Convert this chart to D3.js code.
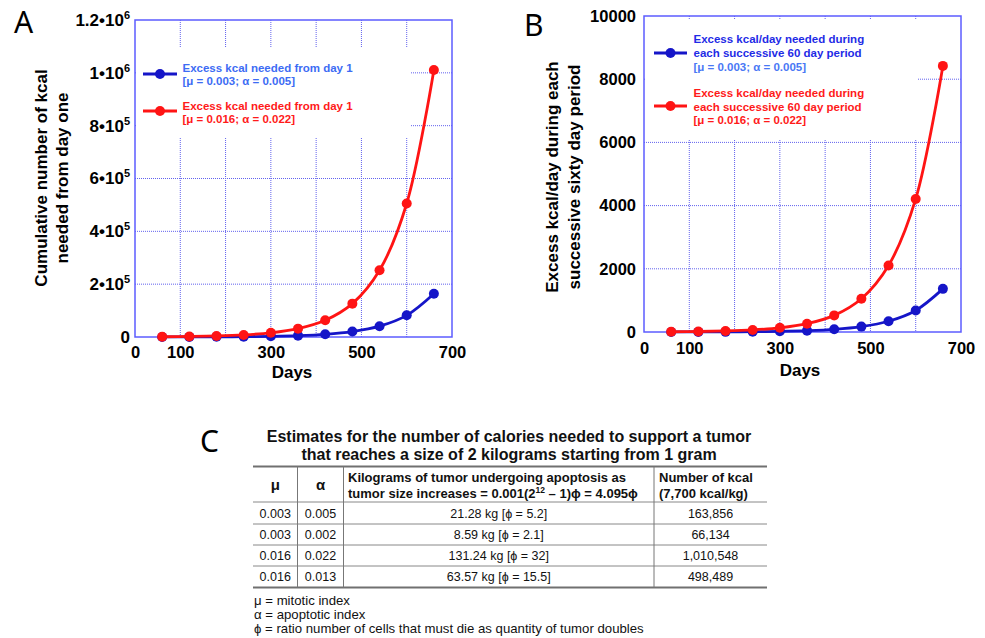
<!DOCTYPE html>
<html><head><meta charset="utf-8">
<script src="https://cdn.jsdelivr.net/npm/d3@7"></script>
<style>
body{margin:0;background:#fff;}
svg{display:block;font-family:"Liberation Sans",Arial,Helvetica,sans-serif;}
</style></head><body>
<svg id="c" width="985" height="638"></svg>
<script>
// ---------- data ----------
const days = [60,120,180,240,300,360,420,480,540,600,660];
const cumBlue = [200,400,700,1300,2600,5100,10200,20500,41000,82000,163856];
const cumRed  = [1000,2000,3900,7900,15800,31600,63200,126300,252600,505300,1010548];
const perDayBlue = [1,3,5,11,21,43,85,171,341,683,1365];
const perDayRed  = [8,16,33,66,132,263,526,1053,2105,4210,8421];
const xTickLabels = [0,100,300,500,700];
const xGridValues = [100,200,300,400,500,600];
const yTicksA = [0,200000,400000,600000,800000,1000000,1200000];
const yTicksB = [0,2000,4000,6000,8000,10000];
const legendA = [
  ["Excess kcal needed from day 1","[\u03bc = 0.003; \u03b1 = 0.005]"],
  ["Excess kcal needed from day 1","[\u03bc = 0.016; \u03b1 = 0.022]"]
];
const legendB = [
  ["Excess kcal/day needed during","each successive 60 day period","[\u03bc = 0.003; \u03b1 = 0.005]"],
  ["Excess kcal/day needed during","each successive 60 day period","[\u03bc = 0.016; \u03b1 = 0.022]"]
];
const tableTitle = ["Estimates for the number of calories needed to support a tumor",
                    "that reaches a size of 2 kilograms starting from 1 gram"];
const tableRows = [
  ["0.003","0.005","21.28 kg [\u03d5 = 5.2]","163,856"],
  ["0.003","0.002","8.59 kg [\u03d5 = 2.1]","66,134"],
  ["0.016","0.022","131.24 kg [\u03d5 = 32]","1,010,548"],
  ["0.016","0.013","63.57 kg [\u03d5 = 15.5]","498,489"]
];
const footnotes = ["\u03bc = mitotic index","\u03b1 = apoptotic index",
  "\u03d5 = ratio number of cells that must die as quantity of tumor doubles"];

// ---------- styles ----------
const BLUE="#1515c8", RED="#ff1414", FRAME="#5c5cff", GRID="#6262ee";
const svg = d3.select("#c");

function fmtSci(v){
  if(v===0) return ["0",null];
  const e=Math.floor(Math.log10(v)+1e-9);
  const m=+(v/Math.pow(10,e)).toFixed(1);
  return [m+"\u202210", String(e)];
}

function panel(o){
  const g = svg.append("g");
  const x = d3.scaleLinear().domain([0,700]).range([o.x0,o.x1]);
  const y = d3.scaleLinear().domain([0,o.ymax]).range([o.y1,o.y0]);
  // grid
  g.append("g").selectAll("line").data(xGridValues).join("line")
    .attr("x1",d=>x(d)).attr("x2",d=>x(d)).attr("y1",o.y0).attr("y2",o.y1)
    .attr("stroke",GRID).attr("stroke-width",1).attr("stroke-dasharray","1,1");
  g.append("g").selectAll("line").data(o.yTicks.slice(1,-1)).join("line")
    .attr("x1",o.x0).attr("x2",o.x1).attr("y1",d=>y(d)).attr("y2",d=>y(d))
    .attr("stroke",GRID).attr("stroke-width",1).attr("stroke-dasharray","1,1");
  // legend background
  g.append("rect").attr("x",o.lb[0]).attr("y",o.lb[1]).attr("width",o.lb[2]-o.lb[0])
    .attr("height",o.lb[3]-o.lb[1]).attr("fill","#fff");
  // frame
  g.append("rect").attr("x",o.x0).attr("y",o.y0).attr("width",o.x1-o.x0).attr("height",o.y1-o.y0)
    .attr("fill","none").attr("stroke",FRAME).attr("stroke-width",1.5);
  // axes
  const ax = g.append("g").attr("transform",`translate(0,${o.y1})`)
    .call(d3.axisBottom(x).tickValues(xTickLabels).tickSize(0).tickPadding(o.xpad).tickFormat(d3.format("d")));
  const ay = g.append("g").attr("transform",`translate(${o.x0},0)`)
    .call(d3.axisLeft(y).tickValues(o.yTicks).tickSize(0).tickPadding(o.ypad).tickFormat(d3.format("d")));
  [ax,ay].forEach(a=>{a.select(".domain").remove();
    a.selectAll("text").attr("font-family",'"Liberation Sans",Arial,sans-serif')
     .attr("font-size",16.5).attr("font-weight","bold").attr("fill","#000");});
  if(o.sci){
    ay.selectAll("text").attr("font-size",17).each(function(d){
      const t=d3.select(this); const [m,e]=fmtSci(d); t.text(m);
      if(e) t.append("tspan").attr("font-size",11).attr("dy",-7).text(e);
    });
  }
  // axis titles
  g.append("text").attr("x",o.daysX).attr("y",o.daysY).attr("text-anchor","middle")
    .attr("font-size",17).attr("font-weight","bold").text("Days");
  o.ytitle.forEach((s,i)=>{
    g.append("text").attr("transform",`translate(${o.ytX[i]},${o.ytY}) rotate(-90)`)
      .attr("text-anchor","middle").attr("font-size",17).attr("font-weight","bold").text(s);
  });
  // series
  const line = d3.line().x(d=>x(d[0])).y(d=>y(d[1])).curve(d3.curveCatmullRom.alpha(0.5));
  o.series.forEach(s=>{
    const pts = days.map((d,i)=>[d,s.vals[i]]);
    g.append("path").attr("d",line(pts)).attr("fill","none").attr("stroke",s.color)
      .attr("stroke-width",2.8).attr("stroke-linejoin","round");
    g.append("g").selectAll("circle").data(pts).join("circle")
      .attr("cx",d=>x(d[0])).attr("cy",d=>y(d[1])).attr("r",5).attr("fill",s.color);
  });
  // legend
  o.legend.forEach((L,i)=>{
    const c=o.series[i].color;
    g.append("line").attr("x1",o.lx[0]).attr("x2",o.lx[1]).attr("y1",o.ly[i]).attr("y2",o.ly[i])
      .attr("stroke",c).attr("stroke-width",2.8);
    g.append("circle").attr("cx",(o.lx[0]+o.lx[1])/2).attr("cy",o.ly[i]).attr("r",5).attr("fill",c);
    L.forEach((s,j)=>{
      g.append("text").attr("x",o.tx).attr("y",o.tb[i][j]).attr("font-size",11.5)
        .attr("font-weight","bold").attr("fill",o.lcol[i][j]).text(s);
    });
  });
}

panel({x0:135,x1:452,y0:20,y1:337,ymax:1200000,yTicks:yTicksA,sci:true,xpad:9,ypad:5,
  lb:[136,48,410,137],daysX:292,daysY:378,
  ytitle:["Cumulative number of kcal","needed from day one"],ytX:[46.5,67.5],ytY:178,
  series:[{vals:cumBlue,color:BLUE},{vals:cumRed,color:RED}],
  legend:legendA,lx:[143,177],ly:[74,111],tx:182.5,
  tb:[[71.5,85],[109.5,123]],
  lcol:[["#3d6cf4","#3d6cf4"],["#ff1a1a","#ff1a1a"]]});

panel({x0:644,x1:961,y0:16,y1:332,ymax:10000,yTicks:yTicksB,sci:false,xpad:10,ypad:8,
  lb:[645,20,918,140],daysX:800,daysY:376,
  ytitle:["Excess kcal/day during each","successive sixty day period"],ytX:[557.5,579.5],ytY:177,
  series:[{vals:perDayBlue,color:BLUE},{vals:perDayRed,color:RED}],
  legend:legendB,lx:[654,687],ly:[53,106],tx:693.5,
  tb:[[43,57,70.5],[97,110.5,124]],
  lcol:[["#1f2ce6","#1f2ce6","#4a78f5"],["#ff1a1a","#ff1a1a","#ff1a1a"]]});

// panel letters
[["A",14,33],["B",524,36],["C",200,452]].forEach(([t,x,y])=>{
  svg.append("text").attr("x",x).attr("y",y).attr("font-family",'"Noto Sans","DejaVu Sans",sans-serif')
    .attr("font-size",30).attr("fill","#000").text(t);
});

// ---------- table ----------
const T = svg.append("g");
const colX = [253,297.5,343.5,654,767];
const rowY = [466.5,502,524,545,566,587.5];
tableTitle.forEach((s,i)=>{
  T.append("text").attr("x",509).attr("y",[442,460][i]).attr("text-anchor","middle")
   .attr("font-size",16).attr("font-weight","bold").attr("fill","#111").text(s);
});
rowY.forEach((yy,i)=>{
  const edge = (i===0||i===rowY.length-1);
  T.append("line").attr("x1",colX[0]).attr("x2",colX[4]).attr("y1",yy).attr("y2",yy)
   .attr("stroke",edge?"#707070":"#888").attr("stroke-width",edge?2:1);
});
[1,2,3].forEach(i=>{
  T.append("line").attr("x1",colX[i]).attr("x2",colX[i]).attr("y1",rowY[0]).attr("y2",rowY[5])
   .attr("stroke","#777").attr("stroke-width",1);
});
T.append("text").attr("x",(colX[0]+colX[1])/2).attr("y",490).attr("text-anchor","middle")
 .attr("font-size",15).attr("font-weight","bold").attr("fill","#111").text("\u03bc");
T.append("text").attr("x",(colX[1]+colX[2])/2).attr("y",490).attr("text-anchor","middle")
 .attr("font-size",15).attr("font-weight","bold").attr("fill","#111").text("\u03b1");
T.append("text").attr("x",348).attr("y",482).attr("font-size",13).attr("font-weight","bold").attr("fill","#111")
 .text("Kilograms of tumor undergoing apoptosis as");
const h2 = T.append("text").attr("x",348).attr("y",497.5).attr("font-size",13).attr("font-weight","bold").attr("fill","#111");
h2.append("tspan").text("tumor size increases = 0.001(2");
h2.append("tspan").attr("font-size",8.5).attr("dy",-5).text("12");
h2.append("tspan").attr("dy",5).text(" \u2013 1)\u03d5 = 4.095\u03d5");
T.append("text").attr("x",659).attr("y",482).attr("font-size",13).attr("font-weight","bold").attr("fill","#111").text("Number of kcal");
T.append("text").attr("x",659).attr("y",497.5).attr("font-size",13).attr("font-weight","bold").attr("fill","#111").text("(7,700 kcal/kg)");
tableRows.forEach((r,i)=>{
  const yb=(rowY[i+1]+rowY[i+2])/2+4.5;
  r.forEach((c,j)=>{
    T.append("text").attr("x",(colX[j]+colX[j+1])/2).attr("y",yb).attr("text-anchor","middle")
     .attr("font-size",12.5).attr("fill","#111").text(c);
  });
});
footnotes.forEach((s,i)=>{
  T.append("text").attr("x",254).attr("y",[605,619,633][i]).attr("font-size",13.2).attr("fill","#111").text(s);
});
</script>
</body></html>
